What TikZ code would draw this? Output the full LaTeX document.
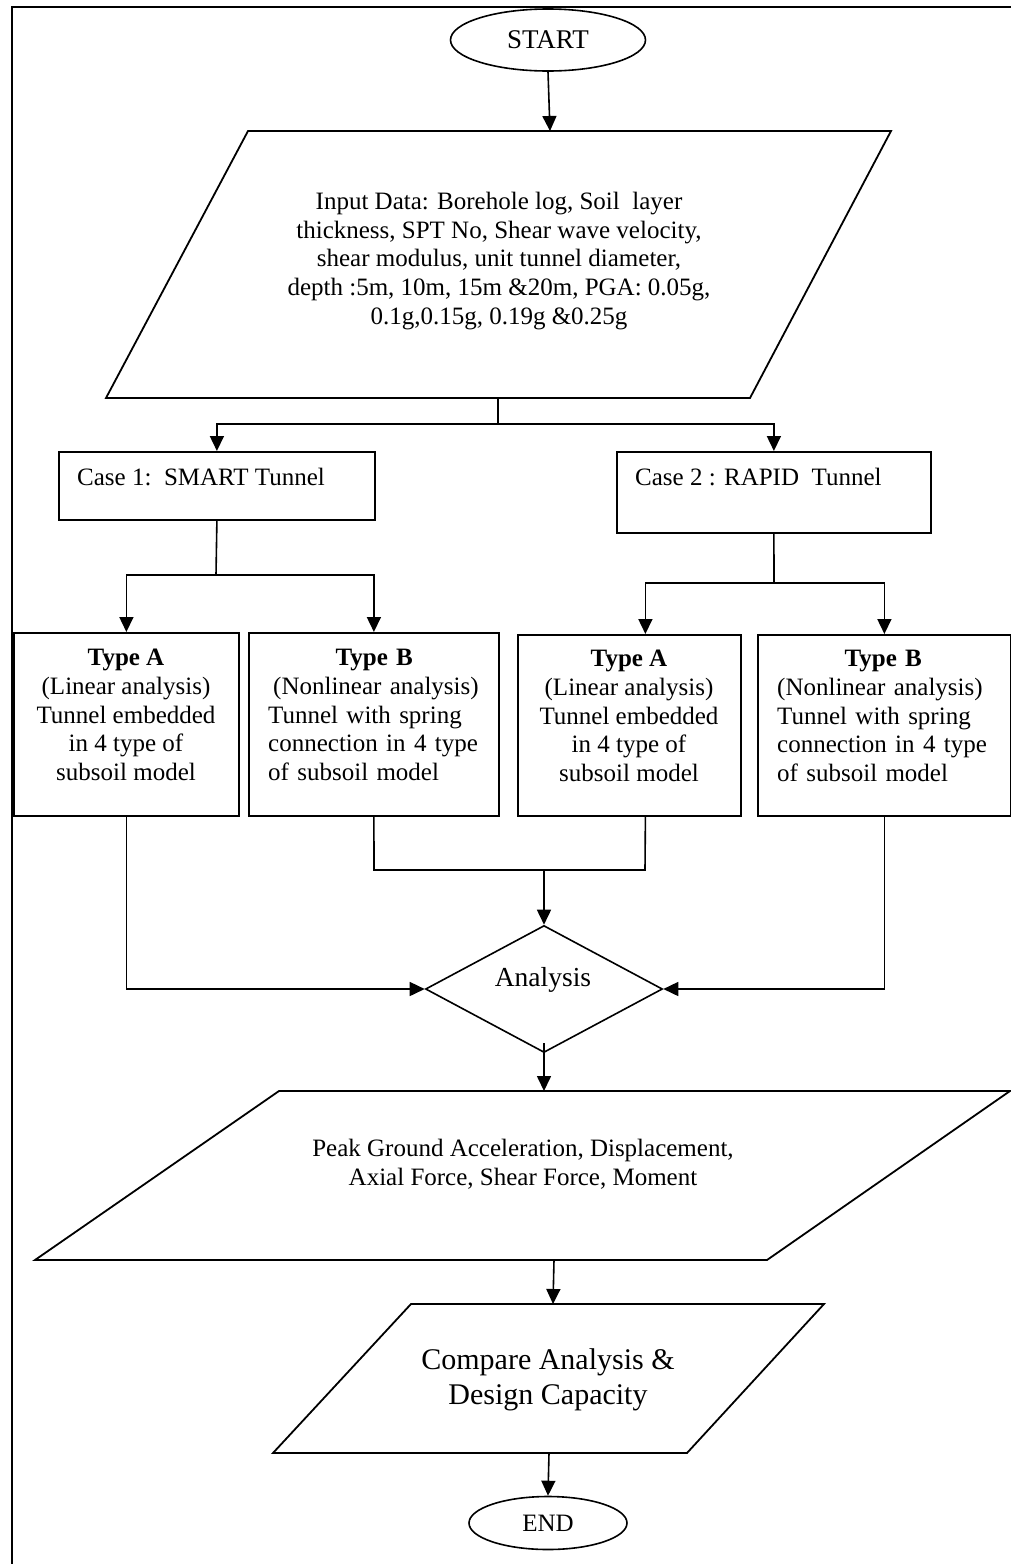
\documentclass[tikz,border=0pt]{standalone}
\usepackage{fontspec}
\setmainfont{Liberation Serif}
\usetikzlibrary{shapes.geometric,arrows.meta,calc}
\begin{document}
\begin{tikzpicture}[x=1pt,y=-1pt,
  every node/.style={font=\fontsize{25}{28.6}\selectfont},
  ln/.style={line width=1.6pt},
  arr/.style={line width=1.6pt,-{Triangle[length=15pt,width=14pt]}},
  boxx/.style={draw,line width=1.8pt,inner sep=0pt,anchor=north west},
  term/.style={draw,ellipse,line width=1.6pt,inner sep=0pt},
  para/.style={draw,line width=1.8pt,line join=miter},
  txt/.style={align=center,inner sep=0pt},
  ltxt/.style={text width=240pt,align=left,inner sep=0pt,anchor=west}]
\useasboundingbox (0,0) rectangle (1011,1564);
% frame
\draw[line width=1.8pt] (1013,7) -- (12,7) -- (12,1566);

% START
\node[term,minimum width=195pt,minimum height=62pt,font=\fontsize{27}{30}\selectfont] (start) at (548,40) {START};

% input parallelogram
\draw[para] (248,131) -- (891,131) -- (750,398) -- (106,398) -- cycle;
\coordinate (p1top) at (550,131);
\coordinate (p1bot) at (498,398);
\node[txt] (intext) at (499,261) {Input Data: Borehole log, Soil\ \ layer\\thickness, SPT No, Shear wave velocity,\\shear modulus, unit tunnel diameter,\\depth :5m, 10m, 15m \&20m, PGA: 0.05g,\\0.1g,0.15g, 0.19g \&0.25g};

% cases
\node[boxx,minimum width=316pt,minimum height=68pt] (c1) at (58,451) {};
\node[anchor=west,inner sep=0pt] (c1t) at (77,477) {Case 1:\ \ SMART Tunnel};
\node[boxx,minimum width=314pt,minimum height=81pt] (c2) at (616,451) {};
\node[anchor=west,inner sep=0pt] (c2t) at (635,477) {Case 2 : RAPID\ \ Tunnel};

% types
\node[boxx,minimum width=225pt,minimum height=183pt] (t1) at (13,632) {};
\node[boxx,minimum width=250pt,minimum height=183pt] (t2) at (248,632) {};
\node[boxx,minimum width=223pt,minimum height=181pt] (t3) at (517,634) {};
\node[boxx,minimum width=253pt,minimum height=181pt] (t4) at (757,634) {};
\node[txt] (t1t) at (126,715) {\textbf{Type A}\\(Linear analysis)\\Tunnel embedded\\in 4 type of\\subsoil model};
\node[txt] (t3t) at (629,716) {\textbf{Type A}\\(Linear analysis)\\Tunnel embedded\\in 4 type of\\subsoil model};
\node[ltxt] (t2t) at (268,715) {\makebox[212pt]{\textbf{Type B}}\\\hspace*{5pt}(Nonlinear analysis)\\Tunnel with spring\\connection in 4 type\\of subsoil model};
\node[ltxt] (t4t) at (777,716) {\makebox[212pt]{\textbf{Type B}}\\(Nonlinear analysis)\\Tunnel with spring\\connection in 4 type\\of subsoil model};

% analysis diamond
\node[draw,diamond,line width=1.6pt,minimum width=237pt,minimum height=127pt,inner sep=0pt] (an) at (544,989) {};
\node[inner sep=0pt,font=\fontsize{27.5}{30}\selectfont] (ant) at (543,980) {Analysis};

% output parallelogram
\draw[para] (279,1091) -- (1010,1091) -- (767,1260) -- (35,1260) -- cycle;
\coordinate (p2top) at (544,1091);
\coordinate (p2bot) at (554,1260);
\node[txt] (outt) at (523,1164) {Peak Ground Acceleration, Displacement,\\Axial Force, Shear Force, Moment};

% compare parallelogram
\draw[para] (411,1304) -- (824,1304) -- (687,1453) -- (273,1453) -- cycle;
\coordinate (p3top) at (553,1304);
\coordinate (p3bot) at (549,1453);
\node[txt,font=\fontsize{30}{35}\selectfont] (cmp) at (548,1380) {Compare Analysis \&\\Design Capacity};

% END
\node[term,minimum width=158pt,minimum height=53pt] (end) at (548,1523) {END};

% connectors
\draw[arr] (start.south) -- (p1top);
\coordinate (s1) at (498,424);
\draw[ln] (p1bot) -- (s1);
\draw[arr] (s1) -| (c1.north);
\draw[arr] (s1) -| (c2.north);
\coordinate (s2) at (216,575);
\draw[ln] (c1.south) -- (s2);
\draw[arr] (s2) -| (t1.north);
\draw[arr] (s2) -| (t2.north);
\coordinate (s3) at (774,583);
\draw[ln] (c2.south) -- (s3);
\draw[arr] (s3) -| ([xshift=16pt]t3.north);
\draw[arr] (s3) -| (t4.north);
\draw[arr] (t1.south) |- (an.west);
\draw[arr] (t4.south) |- (an.east);
\coordinate (j1) at (374,870);
\coordinate (j2) at (645,870);
\coordinate (jm) at (544,870);
\draw[ln] (t2.south) -- (j1) -- (j2) -- ([xshift=16pt]t3.south);
\draw[arr] (jm) -- (an.north);
\draw[arr] ([yshift=10pt]an.south) -- (p2top);
\draw[arr] (p2bot) -- (p3top);
\draw[arr] (p3bot) -- (end.north);
\end{tikzpicture}
\end{document}
